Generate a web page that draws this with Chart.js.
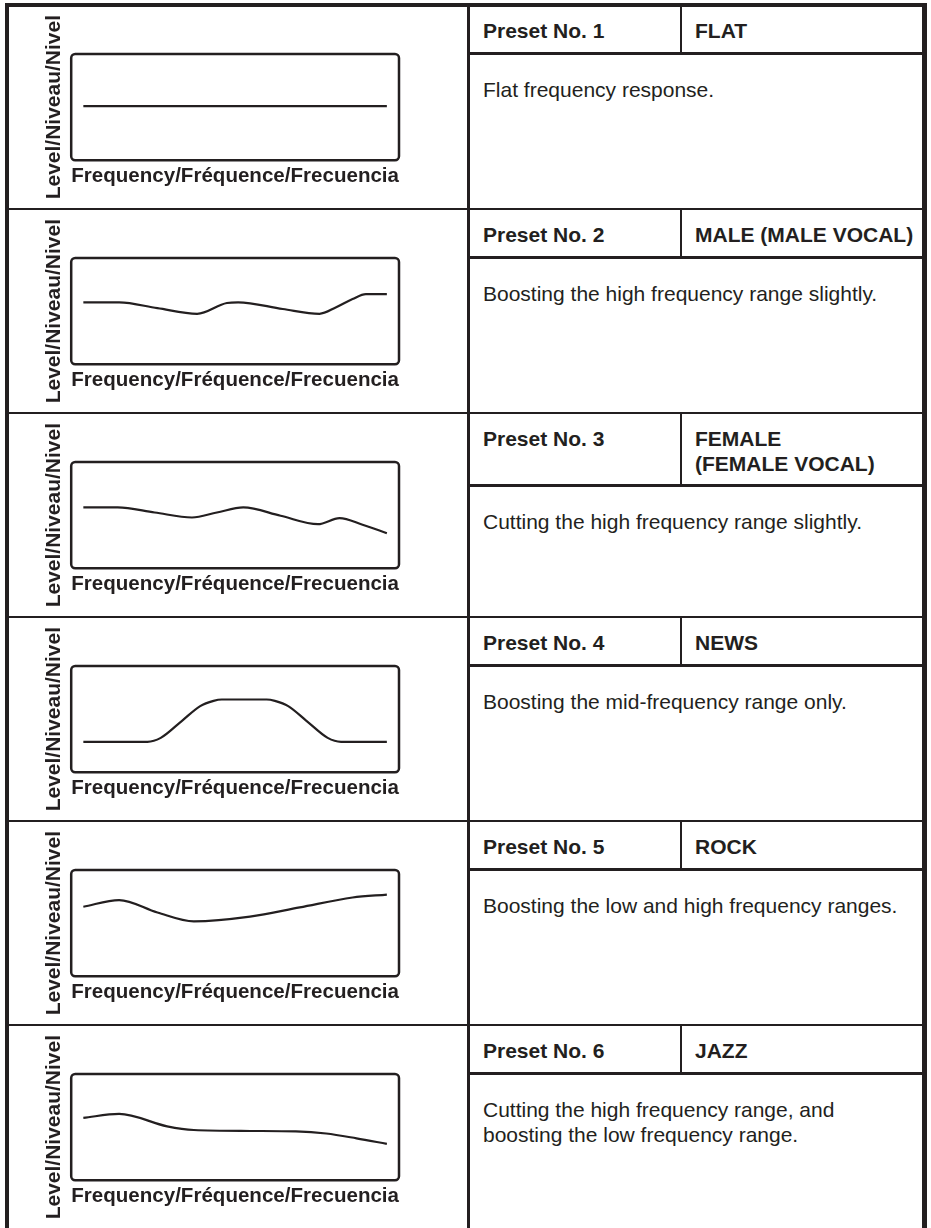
<!DOCTYPE html>
<html>
<head>
<meta charset="utf-8">
<script src="https://cdn.jsdelivr.net/npm/chart.js@4/dist/chart.umd.min.js"></script>
<style>
  html, body { margin: 0; padding: 0; background: #fff; }
  #sheet { position: relative; width: 931px; height: 1228px; overflow: hidden; font-family: "Liberation Sans", Arial, sans-serif; color: #231f20; }
  .rule { position: absolute; background: #231f20; }
  .txt { position: absolute; font-size: 21px; line-height: 25px; white-space: nowrap; }
  .bold { font-weight: bold; }
  canvas { position: absolute; left: 10px; }
</style>
</head>
<body>
<div id="sheet"></div>
<script>
// axis labels
var levelLabel = 'Level/Niveau/Nivel';
var freqLabel = 'Frequency/Fréquence/Frecuencia';

// preset texts
var presetNumbers = ['Preset No. 1', 'Preset No. 2', 'Preset No. 3', 'Preset No. 4', 'Preset No. 5', 'Preset No. 6'];
var presetNames = ['FLAT', 'MALE (MALE VOCAL)', 'FEMALE<br>(FEMALE VOCAL)', 'NEWS', 'ROCK', 'JAZZ'];
var presetNotes = [
    'Flat frequency response.',
    'Boosting the high frequency range slightly.',
    'Cutting the high frequency range slightly.',
    'Boosting the mid-frequency range only.',
    'Boosting the low and high frequency ranges.',
    'Cutting the high frequency range, and<br>boosting the low frequency range.'
];

// response curves (frequency 0-100, level 0-100)
var freqFlat = [0, 100];
var levelFlat = [51, 51];

var freqMale = [0, 11.8, 24.4, 37.5, 47.3, 51, 65.7, 77.8, 83.3, 88.7, 93.1, 100];
var levelMale = [58.3, 58.3, 52.8, 47.5, 57.7, 58.3, 52, 47.5, 53.7, 61.4, 66, 66];

var freqFemale = [0, 11.3, 23.5, 35.8, 44, 52.7, 65, 77.3, 84.4, 92, 100];
var levelFemale = [57.3, 57.3, 52.5, 47.8, 52.5, 57.3, 49.4, 41.5, 47.2, 41, 33];

var freqNews = [0, 21.1, 25.5, 32.6, 38.5, 42.9, 45.6, 60.4, 63.1, 67.5, 73.4, 80.5, 84.9, 100];
var levelNews = [28.7, 28.7, 32.4, 48.7, 62.3, 67.2, 68.5, 68.5, 67.2, 62.3, 48.7, 32.4, 28.7, 28.7];

var freqRock = [0, 11.8, 24.4, 36.4, 54.9, 71.3, 88.7, 100];
var levelRock = [65.4, 71.7, 60, 51.7, 56.1, 64.8, 74.1, 76.9];

var freqJazz = [0, 11.8, 27.6, 36.4, 55, 70, 80, 90, 100];
var levelJazz = [58.7, 62.5, 50.8, 47.3, 46.4, 46, 44, 39.5, 34.3];

var curves = [
    [freqFlat, levelFlat],
    [freqMale, levelMale],
    [freqFemale, levelFemale],
    [freqNews, levelNews],
    [freqRock, levelRock],
    [freqJazz, levelJazz]
];

var ink = '#231f20';
var rowStep = 204;
Chart.defaults.font.family = '"Liberation Sans", Arial, sans-serif';
Chart.defaults.color = ink;

var $sheet = document.getElementById('sheet');

var addRule = function (left, top, width, height) {
    var d = document.createElement('div');
    d.className = 'rule';
    d.style.left = left + 'px';
    d.style.top = top + 'px';
    d.style.width = width + 'px';
    d.style.height = height + 'px';
    $sheet.appendChild(d);
};

var addText = function (html, left, baseline, bold) {
    var d = document.createElement('div');
    d.className = bold ? 'txt bold' : 'txt';
    d.innerHTML = html;
    d.style.left = left + 'px';
    d.style.top = (baseline - 19.8) + 'px';
    $sheet.appendChild(d);
};

// rounded box round the plot area
var framePlugin = {
    id: 'frame',
    beforeDatasetsDraw: function (chart) {
        var a = chart.chartArea;
        var ctx = chart.ctx;
        ctx.save();
        ctx.strokeStyle = ink;
        ctx.lineWidth = 2.5;
        ctx.beginPath();
        ctx.roundRect(a.left, a.top, a.right - a.left, a.bottom - a.top, 4);
        ctx.stroke();
        ctx.restore();
    }
};

var titleFont = { size: 21, weight: 'bold', lineHeight: 1.2 };

var drawCurve = function (canvas, xs, ys) {
    var points = [];
    for (var i = 0; i < xs.length; i++) {
        points.push({ x: xs[i], y: ys[i] });
    }
    new Chart(canvas, {
        type: 'line',
        data: {
            datasets: [{
                data: points,
                borderColor: ink,
                borderWidth: 2.2,
                pointRadius: 0,
                fill: false,
                cubicInterpolationMode: 'monotone'
            }]
        },
        options: {
            responsive: false,
            animation: false,
            devicePixelRatio: 1,
            layout: { padding: { left: 28, right: 68, top: 47, bottom: 19 } },
            plugins: { legend: { display: false }, tooltip: { enabled: false } },
            scales: {
                x: {
                    type: 'linear', min: -4, max: 104,
                    ticks: { display: false },
                    grid: { display: false, drawTicks: false },
                    border: { display: false },
                    title: { display: true, text: freqLabel, align: 'start', color: ink, font: titleFont, padding: { top: 3.5, bottom: 0 } }
                },
                y: {
                    min: 0, max: 100,
                    ticks: { display: false },
                    grid: { display: false, drawTicks: false },
                    border: { display: false },
                    title: { display: true, text: levelLabel, color: ink, font: titleFont, padding: { top: 4, bottom: 4 } }
                }
            }
        },
        plugins: [framePlugin]
    });
};

// table frame
addRule(5, 3, 922, 4);
addRule(5, 3, 4, 1225);
addRule(922, 3, 5, 1225);
addRule(467, 3, 3, 1225);

for (var r = 0; r < presetNumbers.length; r++) {
    var rowTop = 3.5 + r * rowStep;
    if (r > 0) {
        addRule(5, rowTop, 922, 2.5);
    }
    var headLine = r === 2 ? 484 : rowTop + 48.5;
    addRule(470, headLine, 452, 2.5);
    addRule(679.5, rowTop, 2, headLine - rowTop);

    addText(presetNumbers[r], 483, 37.5 + r * rowStep, true);
    addText(presetNames[r], 695, 37.5 + r * rowStep, true);
    addText(presetNotes[r], 483, headLine + 44.5, false);

    var cv = document.createElement('canvas');
    cv.width = 457;
    cv.height = 201;
    cv.style.top = (6.5 + r * rowStep) + 'px';
    $sheet.appendChild(cv);
    drawCurve(cv, curves[r][0], curves[r][1]);
}
</script>
</body>
</html>
